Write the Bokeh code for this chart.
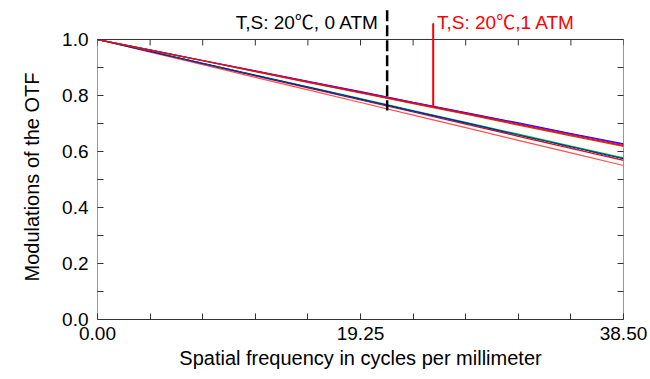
from bokeh.plotting import figure
from bokeh.models import Range1d, LinearAxis, FixedTicker, PrintfTickFormatter, Title
from bokeh.core.properties import value
from bokeh.embed import file_html
from bokeh.resources import INLINE

# ---- data ----
freq = [0.0, 3.85, 7.70, 11.55, 15.40, 19.25, 23.10, 26.95, 30.80, 34.65, 38.50]

mtf_blue_up   = [1.000, 0.963, 0.925, 0.888, 0.851, 0.814, 0.776, 0.739, 0.702, 0.664, 0.627]
mtf_purple_up = [1.000, 0.962, 0.925, 0.887, 0.850, 0.812, 0.775, 0.737, 0.700, 0.662, 0.625]
mtf_brown_up  = [1.000, 0.962, 0.924, 0.885, 0.847, 0.809, 0.771, 0.733, 0.694, 0.656, 0.618]
mtf_red_up    = [1.000, 0.962, 0.924, 0.886, 0.848, 0.810, 0.773, 0.735, 0.697, 0.659, 0.621]
mtf_green_mid = [1.000, 0.958, 0.915, 0.873, 0.831, 0.789, 0.746, 0.704, 0.662, 0.619, 0.577]
mtf_blue_mid  = [1.000, 0.957, 0.915, 0.872, 0.830, 0.787, 0.744, 0.702, 0.659, 0.617, 0.574]
mtf_dot_mid   = [1.000, 0.957, 0.914, 0.872, 0.829, 0.786, 0.743, 0.700, 0.658, 0.615, 0.572]
mtf_red_mid   = [1.000, 0.957, 0.914, 0.870, 0.827, 0.784, 0.741, 0.698, 0.654, 0.611, 0.568]
mtf_red_low   = [1.000, 0.955, 0.910, 0.865, 0.820, 0.775, 0.730, 0.685, 0.640, 0.595, 0.550]

series = [
    (mtf_red_low,   "#ff5050", None),
    (mtf_red_mid,   "#ff0000", None),
    (mtf_green_mid, "#00c000", None),
    (mtf_blue_mid,  "#0000ff", None),
    (mtf_dot_mid,   "#006060", "2 2"),
    (mtf_blue_up,   "#0000ff", None),
    (mtf_purple_up, "#8000ff", None),
    (mtf_brown_up,  "#a06000", None),
    (mtf_red_up,    "#ff0000", None),
]

x_labels_ticks = [0.0, 19.25, 38.50]
x_minor_ticks = [3.85, 7.70, 11.55, 15.40, 23.10, 26.95, 30.80, 34.65]
y_major_ticks = [0.0, 0.2, 0.4, 0.6, 0.8, 1.0]
y_minor_ticks = [0.1, 0.3, 0.5, 0.7, 0.9]
y_all_ticks = [0.0, 0.1, 0.2, 0.3, 0.4, 0.5, 0.6, 0.7, 0.8, 0.9, 1.0]

x_title = "Spatial frequency in cycles per millimeter"
y_title = "Modulations of the OTF"

# annotation markers: x position, top, bottom
marker_x = [21.2, 24.57]
marker_top = [1.104, 1.058]
marker_bottom = [0.746, 0.757]
marker_colors = ["black", "#ff0000"]
label_texts = ["T,S: 20\u2103, 0 ATM", "T,S: 20\u2103,1 ATM"]
label_x = [20.6, 24.85]
label_y = [1.062, 1.062]

X_MAX = 38.5
Y_MAX = 1.0
FRAME_TOP = 1.1214

FONT = "Liberation Sans"
FS = "20px"
TICK_FS = "19px"
ANN_FS = "19px"
AX = "#333333"

p = figure(width=650, height=379, output_backend="svg", toolbar_location=None,
           x_range=Range1d(0, X_MAX), y_range=Range1d(0, FRAME_TOP),
           min_border_left=97, min_border_right=27, min_border_top=5, min_border_bottom=60)
p.outline_line_color = None
p.grid.visible = False
p.background_fill_color = "white"
p.border_fill_color = "white"

# axes
xa = p.xaxis[0]
xa.ticker = FixedTicker(ticks=x_labels_ticks, minor_ticks=x_minor_ticks)
xa.formatter = PrintfTickFormatter(format="%.2f")
xa.axis_label = x_title
ya = p.yaxis[0]
ya.ticker = FixedTicker(ticks=y_major_ticks, minor_ticks=y_minor_ticks)
ya.formatter = PrintfTickFormatter(format="%.1f")
ya.axis_line_color = None

for ax in (xa, ya):
    ax.major_tick_in = 6
    ax.major_tick_out = 0
    ax.minor_tick_in = 6
    ax.minor_tick_out = 0
    ax.major_tick_line_color = AX
    ax.minor_tick_line_color = AX
    ax.major_label_text_font = FONT
    ax.major_label_text_font_size = TICK_FS
    ax.major_label_text_color = "black"
    ax.axis_label_text_font = FONT
    ax.axis_label_text_font_size = FS
    ax.axis_label_text_font_style = "normal"
    ax.axis_label_text_color = "black"
xa.axis_line_color = AX
xa.major_label_standoff = 7
xa.axis_label_standoff = 4
ya.major_label_standoff = 9

ra = LinearAxis(ticker=FixedTicker(ticks=y_all_ticks), axis_line_color=None,
                major_tick_in=6, major_tick_out=0, minor_tick_in=0, minor_tick_out=0,
                major_tick_line_color=AX, major_label_text_font_size="0px")
p.add_layout(ra, "right")

# y title, placed so it is centred on the 0..1 part of the axis
yt = Title(text=y_title, align="left", offset=38, vertical_align="bottom", text_font=FONT,
           text_font_size=FS, text_font_style="normal", text_color="black", standoff=34)
p.add_layout(yt, "left")

# frame lines (top, left, right) at the data limits
p.line([0, 0], [0, Y_MAX], line_color=AX, line_width=1)
p.line([X_MAX, X_MAX], [0, Y_MAX], line_color=AX, line_width=1)
p.line([0, X_MAX], [Y_MAX, Y_MAX], line_color=AX, line_width=1)
# top inward ticks
top_ticks = x_labels_ticks + x_minor_ticks
p.segment(x0=top_ticks, y0=[Y_MAX] * len(top_ticks), x1=top_ticks,
          y1=[Y_MAX - 6 / 280] * len(top_ticks), line_color=AX, line_width=1)

# curves
for ys, col, dash in series:
    kw = {}
    if dash:
        kw["line_dash"] = dash
    p.line(freq, ys, line_color=col, line_width=1.2, **kw)

# markers
p.segment(x0=[marker_x[0]], y0=[marker_top[0]], x1=[marker_x[0]], y1=[marker_bottom[0]],
          line_color=marker_colors[0], line_width=2.5, line_dash="11 4")
p.segment(x0=[marker_x[1]], y0=[marker_top[1]], x1=[marker_x[1]], y1=[marker_bottom[1]],
          line_color=marker_colors[1], line_width=2)

TFONT = "Liberation Sans, Noto Sans CJK SC"
p.text(x=[label_x[0]], y=[label_y[0]], text=[label_texts[0]], text_color=marker_colors[0],
       text_font=value(TFONT), text_font_size=ANN_FS, text_align="right", text_baseline="middle")
p.text(x=[label_x[1]], y=[label_y[1]], text=[label_texts[1]], text_color=marker_colors[1],
       text_font=value(TFONT), text_font_size=ANN_FS, text_align="left", text_baseline="middle")

open("out.html", "w").write(file_html(p, INLINE))
